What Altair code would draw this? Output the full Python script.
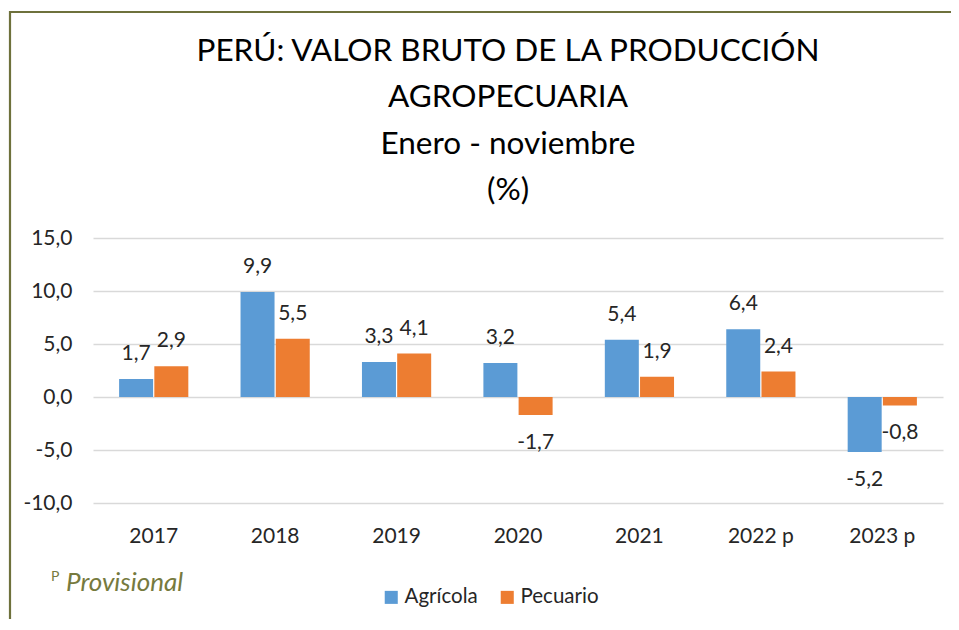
import altair as alt
import pandas as pd

years = ["2017", "2018", "2019", "2020", "2021", "2022 p", "2023 p"]
agricola = [1.7, 9.9, 3.3, 3.2, 5.4, 6.4, -5.2]
pecuario = [2.9, 5.5, 4.1, -1.7, 1.9, 2.4, -0.8]
series = ["Agrícola", "Pecuario"]
colors = ["#5B9BD5", "#ED7D31"]
title_lines = ["PERÚ: VALOR BRUTO DE LA PRODUCCIÓN", "AGROPECUARIA", "Enero - noviembre", "(%)"]

rows = []
for y, a, p in zip(years, agricola, pecuario):
    rows.append({"year": y, "serie": series[0], "v": a})
    rows.append({"year": y, "serie": series[1], "v": p})
df = pd.DataFrame(rows)

FONT = "Lato"
TXT = "#262626"
W, H = 850, 265
fmt = "replace(replace(format({}, '.1f'), '.', ','), '\u2212', '-')"

x = alt.X("year:N", sort=years, title=None,
          scale=alt.Scale(paddingInner=0.42, paddingOuter=0.21),
          axis=alt.Axis(labelAngle=0, ticks=False, domain=False, labelPadding=22,
                        labelFontSize=21, labelColor=TXT, labelFont=FONT, grid=False))
y = alt.Y("v:Q", title=None,
          scale=alt.Scale(domain=[-10, 15], nice=False),
          axis=alt.Axis(values=[-10, -5, 0, 5, 10, 15], ticks=False, domain=False,
                        labelPadding=21, labelFontSize=21, labelColor=TXT, labelFont=FONT,
                        gridColor="#D9D9D9", gridWidth=1.6,
                        labelExpr=fmt.format("datum.value")))
xo = alt.XOffset("serie:N", sort=series, scale=alt.Scale(paddingInner=0, paddingOuter=0))

base = alt.Chart(df).encode(x=x, xOffset=xo)

bars = base.mark_bar(size=34).encode(
    y=y,
    color=alt.Color("serie:N", sort=series, scale=alt.Scale(domain=series, range=colors),
                    legend=alt.Legend(title=None, orient="none", legendX=288, legendY=349,
                                      direction="horizontal", symbolType="square", symbolSize=170,
                                      symbolStrokeWidth=0, labelFontSize=20.5, labelFont=FONT,
                                      labelColor=TXT, labelOffset=3, columnPadding=19)),
)

labels = base.transform_calculate(lab=fmt.format("datum.v"))
pos_lab = labels.transform_filter("datum.v >= 0").mark_text(
    dy=-25, fontSize=21, font=FONT, color=TXT, baseline="middle").encode(
    y=alt.Y("v:Q"), text="lab:N")
neg_lab = labels.transform_filter("datum.v < 0").mark_text(
    dy=28, fontSize=21, font=FONT, color=TXT, baseline="middle").encode(
    y=alt.Y("v:Q"), text="lab:N")

one = pd.DataFrame({"k": [0]})
border = alt.Chart(one).mark_rect(fill=None, stroke="#6E713C", strokeWidth=2.2).encode(
    x=alt.value(-83), x2=alt.value(880), y=alt.value(-226), y2=alt.value(430))
sup = alt.Chart(one).mark_text(text="P", fontSize=14, font=FONT, color="#767A3E",
                               align="left", baseline="middle").encode(
    x=alt.value(-42), y=alt.value(339))
foot = alt.Chart(one).mark_text(text="Provisional", fontSize=26, font=FONT, fontStyle="italic",
                                color="#767A3E", align="left", baseline="middle").encode(
    x=alt.value(-27), y=alt.value(345))

title_y = [-186, -140, -93, -47]
title_layers = [
    alt.Chart(one).mark_text(text=t, fontSize=31.5, font=FONT, color="#000000",
                             align="center", baseline="middle").encode(
        x=alt.value(415), y=alt.value(ty))
    for t, ty in zip(title_lines, title_y)
]

chart = alt.layer(bars, pos_lab, neg_lab, border, sup, foot, *title_layers).properties(
    width=W, height=H,
    autosize=alt.AutoSizeParams(type="none"),
    padding={"left": 85, "top": 230, "right": 8, "bottom": 116},
).configure_view(stroke=None)

chart.save("out.html", embed_options={"renderer": "svg", "actions": False})
